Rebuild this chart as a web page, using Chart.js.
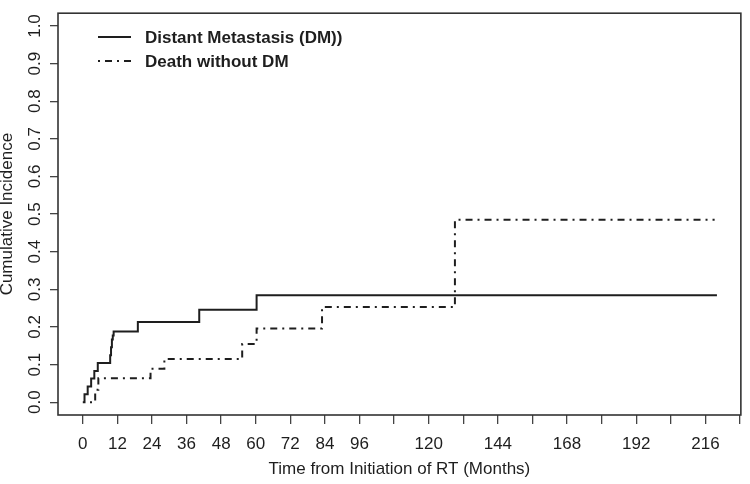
<!DOCTYPE html>
<html>
<head>
<meta charset="utf-8">
<script src="https://cdn.jsdelivr.net/npm/chart.js@4"></script>
<style>
  body { margin: 0; background: #fff; }
  canvas { display: block; }
</style>
</head>
<body>
<canvas id="cif" width="750" height="484"></canvas>
<script>
// months from start of RT, cumulative incidence
const dmMonths = [0, 0.6, 1.7, 2.9, 4.0, 5.2, 9.5, 9.8, 10.1, 10.4, 10.7, 19.1, 40.4, 60.3, 220];
const dmValues = [0, 0.021, 0.042, 0.063, 0.083, 0.104, 0.125, 0.146, 0.167, 0.177, 0.188, 0.213, 0.246, 0.284, 0.284];

const deathMonths = [2.5, 4.3, 5.4, 23.5, 28.3, 55.3, 60.3, 83, 129.1, 219.2];
const deathValues = [0, 0.033, 0.064, 0.089, 0.115, 0.155, 0.196, 0.253, 0.485, 0.485];

const xTicks = [0, 12, 24, 36, 48, 60, 72, 84, 96, 108, 120, 132, 144, 156, 168, 180, 192, 204, 216, 228];
const xLabels = [0, 12, 24, 36, 48, 60, 72, 84, 96, 120, 144, 168, 192, 216];
const yTicks = [0, 0.1, 0.2, 0.3, 0.4, 0.5, 0.6, 0.7, 0.8, 0.9, 1.0];

const ink = '#1e1e1e';
const font = "'Liberation Sans', Arial, sans-serif";

function pts(xs, ys) {
  return xs.map((x, i) => ({ x: x, y: ys[i] }));
}

// frame around the plot region, like R's box()
const boxPlugin = {
  id: 'box',
  afterDraw(chart) {
    const a = chart.chartArea, c = chart.ctx;
    c.save();
    c.strokeStyle = '#333';
    c.lineWidth = 1.6;
    c.strokeRect(a.left, a.top, a.right - a.left, a.bottom - a.top);
    c.restore();
  }
};

// legend in the top-left corner of the plot
const legendPlugin = {
  id: 'rlegend',
  afterDraw(chart) {
    const c = chart.ctx;
    const rows = [37, 61];
    c.save();
    chart.data.datasets.forEach((ds, i) => {
      const y = rows[i];
      c.strokeStyle = ds.borderColor;
      c.lineWidth = ds.borderWidth;
      c.setLineDash(ds.borderDash || []);
      c.beginPath();
      c.moveTo(98, y);
      c.lineTo(131, y);
      c.stroke();
      c.setLineDash([]);
      c.fillStyle = ink;
      c.font = 'bold 17px ' + font;
      c.textBaseline = 'middle';
      c.fillText(ds.label, 145, y + 1.5);
    });
    c.restore();
  }
};

new Chart(document.getElementById('cif'), {
  type: 'line',
  data: {
    datasets: [{
      label: 'Distant Metastasis (DM))',
      data: pts(dmMonths, dmValues),
      borderColor: ink,
      borderWidth: 2,
      stepped: 'before',
      pointRadius: 0,
      fill: false
    }, {
      label: 'Death without DM',
      data: pts(deathMonths, deathValues),
      borderColor: ink,
      borderWidth: 2,
      borderDash: [2, 5, 7, 5],
      stepped: 'before',
      pointRadius: 0,
      fill: false
    }]
  },
  options: {
    responsive: false,
    animation: false,
    devicePixelRatio: 1,
    layout: { padding: { top: 2, right: 2, left: 0, bottom: 0 } },
    plugins: {
      legend: { display: false },
      tooltip: { enabled: false }
    },
    scales: {
      x: {
        type: 'linear',
        min: -8.6,
        max: 228.3,
        afterFit(s) { s.height = 69; },
        afterBuildTicks(s) { s.ticks = xTicks.map(v => ({ value: v })); },
        grid: { drawOnChartArea: false, drawTicks: true, tickLength: 9, color: '#444', lineWidth: 1.3 },
        border: { display: false },
        ticks: {
          autoSkip: false,
          maxRotation: 0,
          padding: 10,
          color: ink,
          font: { family: font, size: 17 },
          callback: v => xLabels.includes(v) ? String(v) : ''
        },
        title: {
          display: true,
          text: 'Time from Initiation of RT (Months)',
          color: ink,
          font: { family: font, size: 17 },
          padding: { top: 0, bottom: 4 }
        }
      },
      y: {
        type: 'linear',
        min: -0.034,
        max: 1.034,
        afterFit(s) { s.width = 58; },
        afterBuildTicks(s) { s.ticks = yTicks.map(v => ({ value: v })); },
        grid: { drawOnChartArea: false, drawTicks: true, tickLength: 8, color: '#444', lineWidth: 1.3 },
        border: { display: false },
        ticks: {
          minRotation: 90,
          maxRotation: 90,
          crossAlign: 'center',
          padding: 3,
          color: ink,
          font: { family: font, size: 17 },
          callback: v => v.toFixed(1)
        },
        title: {
          display: true,
          text: 'Cumulative Incidence',
          color: ink,
          font: { family: font, size: 17, lineHeight: 0.85 },
          padding: 0
        }
      }
    }
  },
  plugins: [boxPlugin, legendPlugin]
});
</script>
</body>
</html>
